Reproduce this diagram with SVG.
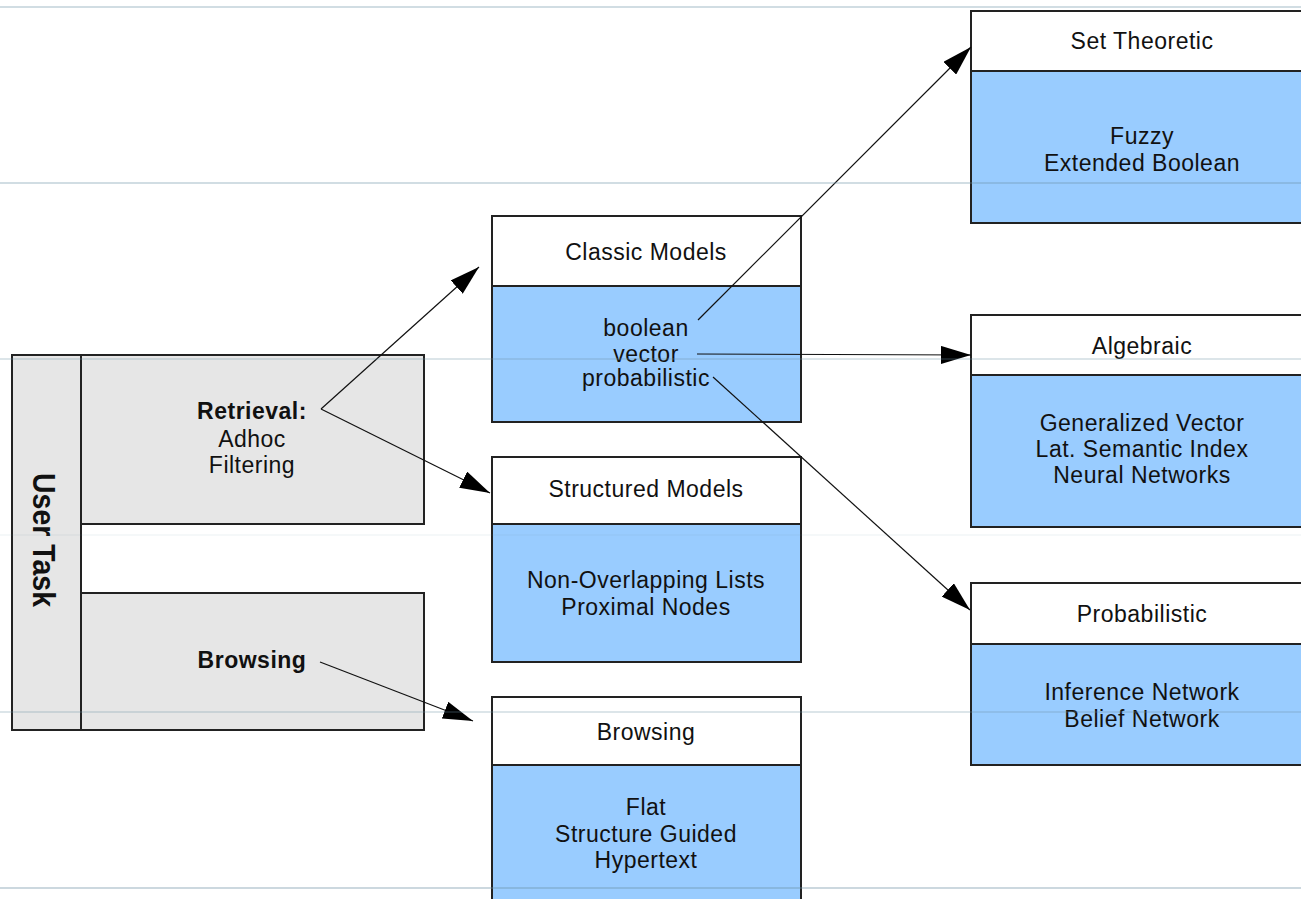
<svg xmlns="http://www.w3.org/2000/svg" width="1301" height="899" viewBox="0 0 1301 899">
  <style>
    .box { stroke: #222; stroke-width: 2; }
    .grey { fill: #e6e6e6; }
    .head { fill: #ffffff; }
    .body { fill: #99ccff; }
    text { font-family: "Liberation Sans", Arial, sans-serif; font-size: 23px; fill: #111; text-anchor: middle; letter-spacing: 0.5px; }
    .bold { font-weight: bold; }
    .conn { stroke: #111; stroke-width: 1.2; fill: none; marker-end: url(#head); }
    .rule { stroke: #6a8fa3; stroke-width: 1.5; }
  </style>
  <defs>
    <marker id="head" viewBox="0 0 30 18" refX="30" refY="9" markerWidth="30" markerHeight="18" markerUnits="userSpaceOnUse" orient="auto">
      <path d="M0,0 L30,9 L0,18 Z" fill="#000"/>
    </marker>
  </defs>
  <rect width="1301" height="899" fill="#ffffff"/>

  <!-- user task lane -->
  <g id="user-task">
    <rect class="box grey" x="12" y="355" width="69" height="375"/>
    <text class="bold" transform="translate(33,540) rotate(90)" font-size="31" textLength="134" lengthAdjust="spacingAndGlyphs" style="font-size:31px;letter-spacing:0">User Task</text>
  </g>
  <g id="retrieval">
    <rect class="box grey" x="81" y="355" width="343" height="169"/>
    <text class="bold" x="252" y="419">Retrieval:</text>
    <text x="252" y="447">Adhoc</text>
    <text x="252" y="473">Filtering</text>
  </g>
  <g id="browsing-task">
    <rect class="box grey" x="81" y="593" width="343" height="137"/>
    <text class="bold" x="252" y="668">Browsing</text>
  </g>

  <!-- middle column -->
  <g id="classic-models">
    <rect class="box head" x="492" y="216" width="309" height="70"/>
    <rect class="box body" x="492" y="286" width="309" height="136"/>
    <text x="646" y="260">Classic Models</text>
    <text x="646" y="336">boolean</text>
    <text x="646" y="362">vector</text>
    <text x="646" y="386">probabilistic</text>
  </g>
  <g id="structured-models">
    <rect class="box head" x="492" y="457" width="309" height="67"/>
    <rect class="box body" x="492" y="524" width="309" height="138"/>
    <text x="646" y="497">Structured Models</text>
    <text x="646" y="588">Non-Overlapping Lists</text>
    <text x="646" y="615">Proximal Nodes</text>
  </g>
  <g id="browsing">
    <rect class="box head" x="492" y="697" width="309" height="68"/>
    <rect class="box body" x="492" y="765" width="309" height="150"/>
    <text x="646" y="740">Browsing</text>
    <text x="646" y="815">Flat</text>
    <text x="646" y="842">Structure Guided</text>
    <text x="646" y="868">Hypertext</text>
  </g>

  <!-- right column -->
  <g id="set-theoretic">
    <rect class="box head" x="971" y="11" width="342" height="60"/>
    <rect class="box body" x="971" y="71" width="342" height="152"/>
    <text x="1142" y="49">Set Theoretic</text>
    <text x="1142" y="144">Fuzzy</text>
    <text x="1142" y="171">Extended Boolean</text>
  </g>
  <g id="algebraic">
    <rect class="box head" x="971" y="315" width="342" height="60"/>
    <rect class="box body" x="971" y="375" width="342" height="152"/>
    <text x="1142" y="354">Algebraic</text>
    <text x="1142" y="431">Generalized Vector</text>
    <text x="1142" y="457">Lat. Semantic Index</text>
    <text x="1142" y="483">Neural Networks</text>
  </g>
  <g id="probabilistic">
    <rect class="box head" x="971" y="583" width="342" height="61"/>
    <rect class="box body" x="971" y="644" width="342" height="121"/>
    <text x="1142" y="622">Probabilistic</text>
    <text x="1142" y="700">Inference Network</text>
    <text x="1142" y="727">Belief Network</text>
  </g>

  <!-- connectors -->
  <g id="connectors">
    <line class="conn" x1="321" y1="409" x2="479" y2="267"/>
    <line class="conn" x1="321" y1="409" x2="490" y2="493"/>
    <line class="conn" x1="320" y1="662" x2="473" y2="721"/>
    <line class="conn" x1="698" y1="320" x2="971" y2="47"/>
    <line class="conn" x1="697" y1="354" x2="971" y2="355"/>
    <line class="conn" x1="713" y1="377" x2="970" y2="610"/>
  </g>

  <!-- faint horizontal rules laid over the page -->
  <g id="rules">
    <line class="rule" x1="0" y1="7" x2="1301" y2="7" opacity="0.4"/>
    <line class="rule" x1="0" y1="183" x2="1301" y2="183" opacity="0.4"/>
    <line class="rule" x1="0" y1="359" x2="1301" y2="359" opacity="0.3"/>
    <line class="rule" x1="0" y1="535" x2="1301" y2="535" opacity="0.08"/>
    <line class="rule" x1="0" y1="712" x2="1301" y2="712" opacity="0.3"/>
    <line class="rule" x1="0" y1="888" x2="1301" y2="888" opacity="0.45"/>
  </g>
</svg>
